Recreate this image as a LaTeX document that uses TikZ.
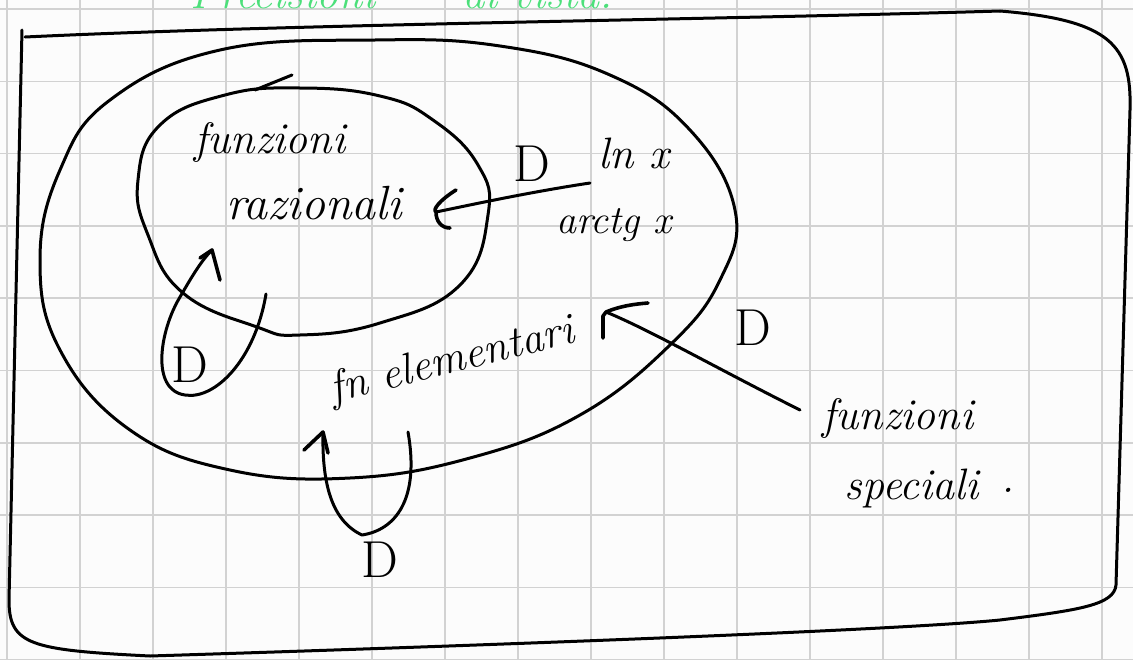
\documentclass[tikz,border=0pt]{standalone}
\usetikzlibrary{arrows.meta}
\definecolor{paper}{HTML}{FCFCFC}
\definecolor{gridc}{HTML}{D2D2D2}
\definecolor{hlgreen}{HTML}{4CE07A}
\begin{document}
\begin{tikzpicture}[x=1pt,y=-1pt,
  ink/.style={line width=3pt, line cap=round, line join=round},
  barb/.style={line width=3.6pt, line cap=round, line join=round},
  hw/.style={font=\fontsize{44}{48}\selectfont\itshape, inner sep=0pt},
  dlab/.style={font=\fontsize{52}{56}\selectfont, inner sep=0pt}]
\useasboundingbox (0,0) rectangle (1133,659);
\fill[paper] (0,0) rectangle (1133,659);
\foreach \x in {7,80,...,1110} \draw[gridc, line width=1.6pt] (\x,0) -- (\x,659);
\foreach \y in {9,81.3,...,660} \draw[gridc, line width=1.6pt] (0,\y) -- (1133,\y);
% green heading, cut off at top
\begin{scope}
\clip (0,0) rectangle (1133,659);
\node[hw, text=hlgreen, anchor=base west] (head1) at (190,8) {Precisioni};
\node[hw, text=hlgreen, anchor=base west] (head2) at (462,8) {di vista.};
\end{scope}
% outer frame
\draw[ink] (22,30) -- (9,600) .. controls (9,645) and (30,650) .. (150,656)
  .. controls (500,645) and (900,630) .. (1000,620)
  .. controls (1080,610) and (1114,605) .. (1116,585) -- (1130,110)
  .. controls (1132,45) and (1110,20) .. (1000,11);
\draw[ink] (25,37) .. controls (300,24) and (700,20) .. (1000,11);
% outer ellipse (elementary functions)
\draw[ink] plot[smooth cycle, tension=0.7] coordinates {
  (375,40) (500,46) (610,75) (690,130) (735,210) (720,280) (670,345)
  (580,415) (470,458) (350,478) (230,470) (130,430) (60,350) (40,260)
  (60,170) (110,100) (220,50)};
% inner ellipse (rational functions)
\draw[ink] plot[smooth cycle, tension=0.75] coordinates {
  (300,88) (380,96) (433,120) (478,165) (488,215) (460,285) (380,323)
  (300,335) (257,327) (183,293) (148,235) (138,180) (160,125) (225,95)};
\draw[ink] (255,90) -- (292,75);
% texts
\node[hw] (fr1) at (270,142) {funzioni};
\node[hw, font=\fontsize{48}{52}\selectfont\itshape] (fr2) at (314,203) {razionali};
\node[dlab] (d1) at (532,164) {D};
\node[hw] (ln) at (634,153) {ln x};
\node[hw, font=\fontsize{40}{44}\selectfont\itshape] (arc) at (614,225) {arctg x};
\node[hw, rotate=14] (fe) at (452,362) {fn elementari};
\node[dlab] (d2) at (753,328) {D};
\node[dlab] (d3) at (190,365) {D};
\node[dlab] (d4) at (380,560) {D};
\node[hw] (fs1) at (898,418) {funzioni};
\node[hw] (fs2) at (912,488) {speciali};
\node[hw] (dot) at (1008,490) {.};
% arrow ln x -> razionali
\coordinate (a1s) at (590,183);
\coordinate (a1t) at (436,212);
\draw[ink] (a1s) .. controls (530,192) and (470,205) .. (a1t);
\draw[barb] (456,190) .. controls (440,200) and (432,210) .. (a1t)
  .. controls (436,222) and (442,228) .. (450,228);
% arrow funzioni speciali -> fn elementari
\coordinate (a2s) at (800,410);
\coordinate (a2t) at (606,312);
\draw[ink] (a2s) .. controls (720,370) and (650,330) .. (a2t);
\draw[barb] (603,338) -- (603,316) -- (a2t) .. controls (620,306) and (635,304) .. (648,303);
% loop on inner ellipse
\coordinate (l1s) at (266,294);
\coordinate (l1t) at (212,250);
\draw[ink] (l1s) .. controls (255,360) and (215,400) .. (185,395)
  .. controls (150,390) and (160,330) .. (180,297)
  .. controls (190,280) and (200,262) .. (l1t);
\draw[barb] (200,258) -- (l1t) -- (220,280);
% loop on outer ellipse
\coordinate (l2s) at (408,432);
\coordinate (l2t) at (323,432);
\draw[ink] (l2s) .. controls (420,500) and (395,530) .. (362,535)
  .. controls (330,520) and (322,480) .. (l2t);
\draw[barb] (304,450) -- (l2t) -- (328,453);
\end{tikzpicture}
\end{document}
